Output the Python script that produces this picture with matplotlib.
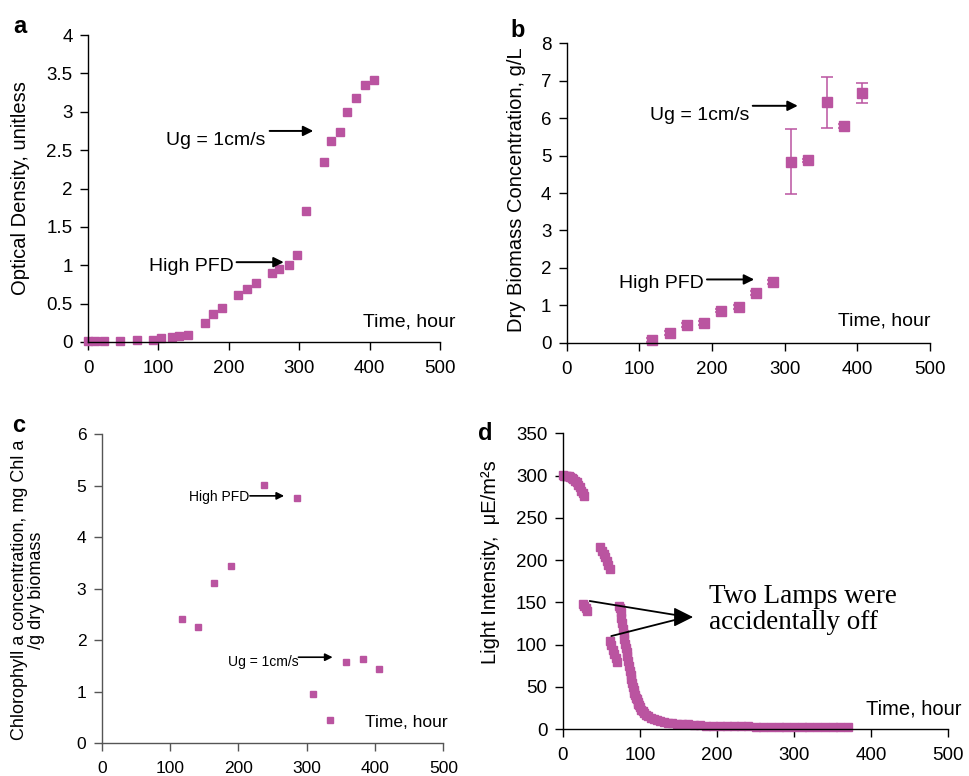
import matplotlib
matplotlib.use("Agg")
import matplotlib.pyplot as plt

plt.rcParams['font.family'] = ['Liberation Sans', 'DejaVu Sans']

MAG = '#BA54A0'

# ---------------- data ----------------
# panel a: optical density
a_time = [0, 10, 23, 45, 69, 93, 103, 119, 129, 142, 166, 177, 190, 213, 226, 238,
          261, 272, 285, 297, 309, 335, 345, 358, 368, 381, 394, 406]
a_od = [0.01, 0.01, 0.01, 0.01, 0.02, 0.02, 0.05, 0.07, 0.08, 0.09, 0.25, 0.36, 0.44,
        0.61, 0.69, 0.77, 0.90, 0.95, 1.00, 1.14, 1.71, 2.34, 2.62, 2.73, 3.00, 3.18,
        3.35, 3.42]

# panel b: dry biomass
b_time = [117, 142, 165, 189, 213, 237, 260, 284, 309, 332, 358, 381, 406]
b_dw = [0.07, 0.25, 0.47, 0.53, 0.86, 0.95, 1.32, 1.63, 4.84, 4.87, 6.42, 5.79, 6.67]
b_err = [0.05, 0.05, 0.05, 0.05, 0.05, 0.05, 0.05, 0.05, 0.88, 0.05, 0.69, 0.05, 0.26]

# panel c: chlorophyll content
c_time = [117, 141, 165, 189, 238, 286, 310, 334, 358, 383, 406]
c_chl = [2.42, 2.26, 3.10, 3.43, 5.01, 4.75, 0.95, 0.45, 1.57, 1.63, 1.45]

# panel d: light intensity (segments)
d1_time = [0, 2, 4, 6, 8, 10, 12, 14, 16, 18, 20, 22, 24, 26, 28]
d1_li = [301, 300, 300, 299, 299, 298, 297, 296, 294, 292, 289, 286, 282, 279, 276]
d2_time = [26, 28, 30, 32]
d2_li = [148, 146, 143, 140]
d3_time = [49, 51, 53, 55, 57, 59, 61]
d3_li = [216, 211, 207, 203, 199, 194, 189]
d4_time = [61, 63, 65, 67, 69, 71]
d4_li = [104, 99, 94, 89, 84, 79]
d5_time = [73, 74, 75, 76, 77, 78, 79, 80, 81, 82, 83, 84, 85, 86, 87, 88, 89, 90,
           91, 92, 93, 94, 95, 96, 97, 98, 99, 100, 102, 104, 106, 108, 111, 114,
           118, 122, 126, 131, 136, 142, 148, 155, 162, 170, 178, 186, 195, 204,
           213, 222, 231, 240, 250, 260, 270, 280, 290, 300, 310, 320, 330, 340,
           350, 360, 370]
d5_li = [146, 143, 138, 131, 125, 118, 112, 107, 101, 96, 91, 86, 80, 75, 69, 64, 59,
         54, 50, 46, 43, 40, 37, 35, 32, 30, 28, 26, 23, 21, 19, 17, 15, 13.5, 12,
         10.5, 9, 8, 7.5, 7, 6.5, 6, 5.5, 5, 4.5, 4, 3.5, 3, 3, 4, 3.5, 3, 2.5,
         2.5, 2.5, 2, 2, 2, 2, 2, 2, 2, 2, 2, 2]

x_ticks = [0, 100, 200, 300, 400, 500]
a_yticks = [0, 0.5, 1, 1.5, 2, 2.5, 3, 3.5, 4]
a_ylabels = ['0', '0.5', '1', '1.5', '2', '2.5', '3', '3.5', '4']
b_yticks = [0, 1, 2, 3, 4, 5, 6, 7, 8]
c_yticks = [0, 1, 2, 3, 4, 5, 6]
d_yticks = [0, 50, 100, 150, 200, 250, 300, 350]

W, H = 969, 776
fig = plt.figure(figsize=(W / 100, H / 100), dpi=100)


def axes_px(x0, x1, ytop, ybot):
    return fig.add_axes([x0 / W, 1 - ybot / H, (x1 - x0) / W, (ybot - ytop) / H])


def style(ax, xlim, ylim, yticks, ylabels=None, fs=13, spine='black'):
    ax.set_xlim(*xlim)
    ax.set_ylim(*ylim)
    for s in ['top', 'right']:
        ax.spines[s].set_visible(False)
    for s in ['left', 'bottom']:
        ax.spines[s].set_color(spine)
        ax.spines[s].set_linewidth(1.0)
    ax.set_xticks(x_ticks)
    ax.set_xticklabels([str(v) for v in x_ticks])
    ax.set_yticks(yticks)
    ax.set_yticklabels(ylabels if ylabels else [str(v) for v in yticks])
    ax.tick_params(direction='out', length=6, width=1.0, labelsize=fs, color=spine)
    ax.tick_params(axis='x', pad=7)
    ax.tick_params(axis='y', pad=5)
    ax.patch.set_alpha(0)


arrow_kw = dict(arrowstyle='-|>', color='black', lw=1.4, mutation_scale=15,
                shrinkA=0, shrinkB=0)

# ---------------- panel a ----------------
axa = axes_px(88, 440, 35, 342)
style(axa, (0, 500), (0, 4), a_yticks, a_ylabels, fs=13.5)
axa.plot(a_time, a_od, 's', color=MAG, ms=6, mec=MAG, clip_on=False)
axa.annotate('', xy=(320, 2.75), xytext=(258, 2.75), arrowprops=arrow_kw)
axa.text(111, 2.57, 'Ug = 1cm/s', fontsize=14, va='baseline')
axa.annotate('', xy=(278, 1.04), xytext=(211, 1.04), arrowprops=arrow_kw)
axa.text(86, 0.93, 'High PFD', fontsize=14, va='baseline')
axa.text(391, 0.2, 'Time, hour', fontsize=14, va='baseline')
fig.text(21 / W, 1 - 188 / H, 'Optical Density, unitless', rotation=90,
         fontsize=14.5, ha='center', va='center')
fig.text(13 / W, 1 - 33 / H, 'a', fontsize=17, fontweight='bold')

# ---------------- panel b ----------------
axb = axes_px(566.7, 930, 43.3, 342.7)
style(axb, (0, 500), (0, 8), b_yticks, fs=13.5)
axb.errorbar(b_time, b_dw, yerr=b_err, fmt='s', color=MAG, ms=6.5, mec=MAG,
             elinewidth=1.1, capsize=4, capthick=1.1, clip_on=False)
axb.annotate('', xy=(318, 6.33), xytext=(256, 6.33), arrowprops=arrow_kw)
axb.text(114, 5.95, 'Ug = 1cm/s', fontsize=14, va='baseline')
axb.annotate('', xy=(258, 1.69), xytext=(193, 1.69), arrowprops=arrow_kw)
axb.text(72, 1.47, 'High PFD', fontsize=14, va='baseline')
axb.text(374, 0.47, 'Time, hour', fontsize=14, va='baseline')
fig.text(517 / W, 1 - 190 / H, 'Dry Biomass Concentration, g/L', rotation=90,
         fontsize=14.5, ha='center', va='center')
fig.text(510 / W, 1 - 37 / H, 'b', fontsize=17, fontweight='bold')

# ---------------- panel c ----------------
axc = axes_px(101.7, 443.3, 434, 743.3)
style(axc, (0, 500), (0, 6), c_yticks, fs=12.5, spine='#555555')
axc.plot(c_time, c_chl, 's', color=MAG, ms=4.8, mec=MAG, clip_on=False)
axc.annotate('', xy=(267, 4.80), xytext=(217, 4.80),
             arrowprops=dict(arrowstyle='-|>', color='black', lw=1.2,
                             mutation_scale=11, shrinkA=0, shrinkB=0))
axc.text(128, 4.70, 'High PFD', fontsize=10, va='baseline')
axc.annotate('', xy=(338, 1.67), xytext=(288, 1.67),
             arrowprops=dict(arrowstyle='-|>', color='black', lw=1.2,
                             mutation_scale=11, shrinkA=0, shrinkB=0))
axc.text(185, 1.49, 'Ug = 1cm/s', fontsize=10, va='baseline')
axc.text(385, 0.31, 'Time, hour', fontsize=12.5, va='baseline')
fig.text(28 / W, 1 - 590 / H, 'Chlorophyll a concentration, mg Chl a\n/g dry biomass',
         rotation=90, fontsize=13, ha='center', va='center', linespacing=0.95,
         multialignment='center')
fig.text(12 / W, 1 - 432 / H, 'c', fontsize=17, fontweight='bold')

# ---------------- panel d ----------------
axd = axes_px(562.7, 948.3, 433.3, 729)
style(axd, (0, 500), (0, 350), d_yticks, fs=13.5)
for tt, vv in [(d1_time, d1_li), (d2_time, d2_li), (d3_time, d3_li),
               (d4_time, d4_li), (d5_time, d5_li)]:
    axd.plot(tt, vv, 's', color=MAG, ms=5.6, mec=MAG, clip_on=False)
axd.annotate('', xy=(156, 133.5), xytext=(35, 151.5),
             arrowprops=dict(arrowstyle='-', color='black', lw=1.3, shrinkA=0, shrinkB=0))
axd.annotate('', xy=(156, 131.5), xytext=(63, 110),
             arrowprops=dict(arrowstyle='-', color='black', lw=1.3, shrinkA=0, shrinkB=0))
axd.annotate('', xy=(169, 132.5), xytext=(150, 132.5),
             arrowprops=dict(arrowstyle='-|>', color='black', lw=1.0,
                             mutation_scale=30, shrinkA=0, shrinkB=0))
axd.text(190, 142, 'Two Lamps were\naccidentally off', fontsize=19.5,
         family=['Liberation Serif', 'DejaVu Serif'], va='center', linespacing=1.05)
axd.text(393, 16.6, 'Time, hour', fontsize=14.5, va='baseline')
fig.text(490 / W, 1 - 562 / H, 'Light Intensity,  \u03bcE/m\u00b2s', rotation=90,
         fontsize=14.5, ha='center', va='center')
fig.text(478 / W, 1 - 440 / H, 'd', fontsize=17, fontweight='bold')

fig.savefig('out.png', dpi=100)
